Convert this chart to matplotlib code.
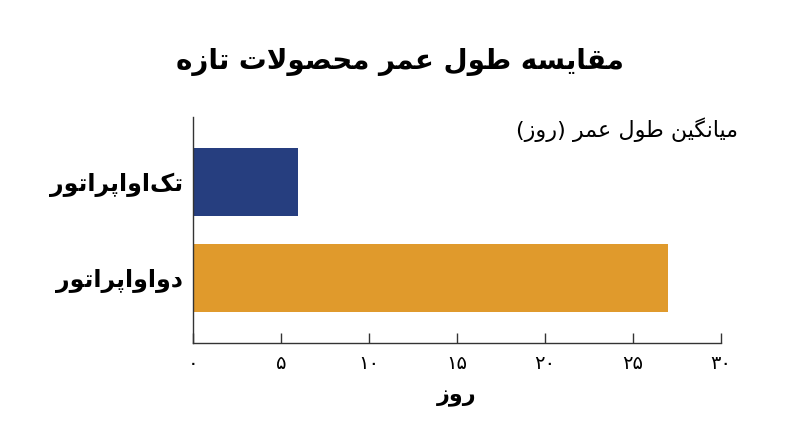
import matplotlib
matplotlib.use("Agg")
import matplotlib.pyplot as plt

# ---- data ----
categories = ["دواواپراتور", "تک\u200cاواپراتور"]
values = [27, 6]
bar_colors = ["#e09a2c", "#263e7f"]
xticks = [0, 5, 10, 15, 20, 25, 30]
xtick_labels = ["۰", "۵", "۱۰", "۱۵", "۲۰", "۲۵", "۳۰"]
title = "مقایسه طول عمر محصولات تازه"
xlabel = "روز"
note = "میانگین طول عمر (روز)"

# ---- minimal Arabic/Persian shaping ----
FORMS = {
    'ا': (0xFE8D, 0xFE8E, None, None),
    'ب': (0xFE8F, 0xFE90, 0xFE91, 0xFE92),
    'ت': (0xFE95, 0xFE96, 0xFE97, 0xFE98),
    'ح': (0xFEA1, 0xFEA2, 0xFEA3, 0xFEA4),
    'د': (0xFEA9, 0xFEAA, None, None),
    'ر': (0xFEAD, 0xFEAE, None, None),
    'ز': (0xFEAF, 0xFEB0, None, None),
    'س': (0xFEB1, 0xFEB2, 0xFEB3, 0xFEB4),
    'ص': (0xFEB9, 0xFEBA, 0xFEBB, 0xFEBC),
    'ط': (0xFEC1, 0xFEC2, 0xFEC3, 0xFEC4),
    'ع': (0xFEC9, 0xFECA, 0xFECB, 0xFECC),
    'ق': (0xFED5, 0xFED6, 0xFED7, 0xFED8),
    'ل': (0xFEDD, 0xFEDE, 0xFEDF, 0xFEE0),
    'م': (0xFEE1, 0xFEE2, 0xFEE3, 0xFEE4),
    'ن': (0xFEE5, 0xFEE6, 0xFEE7, 0xFEE8),
    'ه': (0xFEE9, 0xFEEA, 0xFEEB, 0xFEEC),
    'و': (0xFEED, 0xFEEE, None, None),
    'ی': (0xFBFC, 0xFBFD, 0xFBFE, 0xFBFF),
    'پ': (0xFB56, 0xFB57, 0xFB58, 0xFB59),
    'ک': (0xFB8E, 0xFB8F, 0xFB90, 0xFB91),
    'گ': (0xFB92, 0xFB93, 0xFB94, 0xFB95),
}
LAMALEF = (0xFEFB, 0xFEFC)
MIRROR = {'(': ')', ')': '('}


def dual(c):
    return c in FORMS and FORMS[c][2] is not None


def shape(text):
    chars = []
    i = 0
    while i < len(text):
        if text[i] == 'ل' and i + 1 < len(text) and text[i + 1] == 'ا':
            chars.append('LA')
            i += 2
        else:
            chars.append(text[i])
            i += 1
    out = []
    for k, c in enumerate(chars):
        prev = chars[k - 1] if k > 0 else None
        nxt = chars[k + 1] if k + 1 < len(chars) else None
        join_prev = prev is not None and dual(prev)
        if c == 'LA':
            out.append(chr(LAMALEF[1] if join_prev else LAMALEF[0]))
            continue
        if c == '\u200c':
            continue
        if c not in FORMS:
            out.append(MIRROR.get(c, c))
            continue
        iso, fin, ini, med = FORMS[c]
        join_next = dual(c) and nxt is not None and (nxt in FORMS or nxt == 'LA')
        if join_prev and join_next:
            g = med
        elif join_prev:
            g = fin
        elif join_next:
            g = ini
        else:
            g = iso
        out.append(chr(g))
    return ''.join(reversed(out))


plt.rcParams['font.family'] = ['DejaVu Sans']

fig = plt.figure(figsize=(8, 4.47), dpi=100)
ax = fig.add_axes([0.241, 0.2327, 0.66, 0.5056])

ypos = list(range(len(categories)))
ax.barh(ypos, values, height=0.708, color=bar_colors)
ax.set_ylim(-0.677, 1.677)
ax.set_xlim(0, 30)

ax.set_yticks(ypos)
ax.set_yticklabels([shape(c) for c in categories], fontsize=17, fontweight='bold')
ax.set_xticks(xticks)
ax.set_xticklabels(xtick_labels, fontsize=14)
ax.tick_params(axis='y', length=0, pad=7)
ax.tick_params(axis='x', direction='in', length=7.2, width=1, color='#333333', pad=8)

for s in ['top', 'right']:
    ax.spines[s].set_visible(False)
for s in ['left', 'bottom']:
    ax.spines[s].set_color('#333333')
    ax.spines[s].set_linewidth(1)

ax.set_xlabel(shape(xlabel), fontsize=16, fontweight='bold', labelpad=10)

fig.text(0.5, 0.862, shape(title), ha='center', va='center', fontsize=20, fontweight='bold')
fig.text(0.9225, 0.709, shape(note), ha='right', va='center', fontsize=16)

fig.savefig('out.png', dpi=100, facecolor='white')
